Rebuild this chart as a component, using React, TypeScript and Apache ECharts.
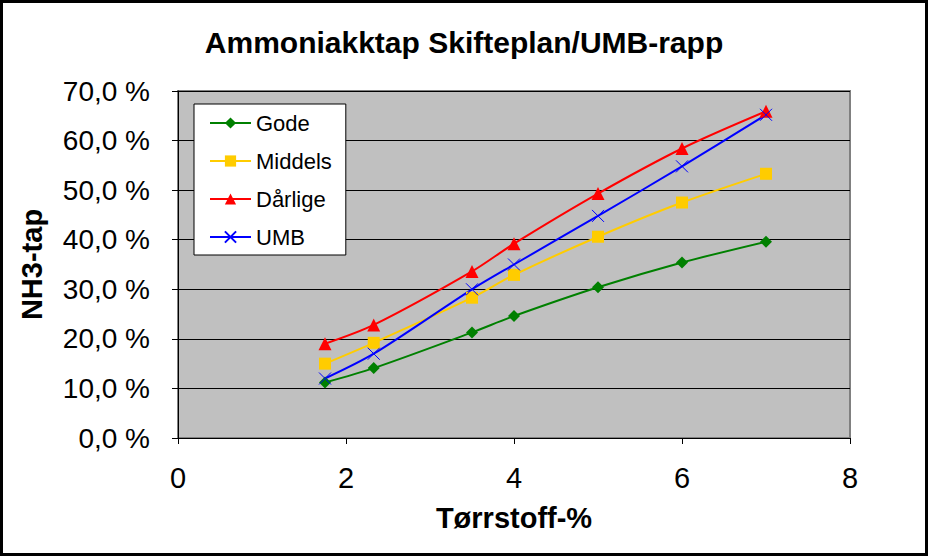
import React, { useEffect, useRef } from "react";
import * as echarts from "echarts";

const xValues = [1.75, 2.33, 3.5, 4, 5, 6, 7];
const gode = [11.2, 14.1, 21.3, 24.6, 30.4, 35.4, 39.6];
const middels = [15.0, 19.2, 28.3, 32.9, 40.6, 47.5, 53.3];
const darlige = [19.0, 22.8, 33.6, 39.2, 49.3, 58.4, 65.9];
const umb = [12.0, 17.0, 30.0, 35.0, 44.8, 54.8, 65.2];

const seriesNames = ["Gode", "Middels", "Dårlige", "UMB"];
const titleText = "Ammoniakktap Skifteplan/UMB-rapp";
const xName = "Tørrstoff-%";
const yName = "NH3-tap";

const pair = (ys: number[]) => xValues.map((x, i) => [x, ys[i]]);

export default function App() {
  const ref = useRef<HTMLDivElement>(null);
  useEffect(() => {
    if (!ref.current) return;
    const chart = echarts.init(ref.current, undefined, { renderer: "svg" });
    const font = "Arial, 'Liberation Sans', sans-serif";
    const mk = (
      name: string,
      data: number[],
      color: string,
      symbol: string,
      size: number,
      extraItem: any = {}
    ) => ({
      name,
      type: "line",
      data: pair(data),
      smooth: 0.3,
      symbol,
      symbolSize: size,
      showSymbol: true,
      lineStyle: { color, width: 2 },
      itemStyle: { color, ...extraItem },
      emphasis: { disabled: true },
    });
    chart.setOption({
      animation: false,
      backgroundColor: "#ffffff",
      textStyle: { fontFamily: font },
      title: {
        text: titleText,
        left: "center",
        top: 22,
        textStyle: { fontSize: 30, fontWeight: "bold", color: "#000", fontFamily: font },
      },
      legend: {
        orient: "vertical",
        left: 194,
        top: 104,
        padding: [8, 14, 7, 15],
        itemGap: 16,
        itemWidth: 41,
        itemHeight: 14,
        backgroundColor: "#ffffff",
        borderColor: "#000000",
        borderWidth: 1,
        borderRadius: 0,
        data: seriesNames,
        textStyle: { fontSize: 22, lineHeight: 22, color: "#000", fontFamily: font },
      },
      grid: {
        left: 178,
        right: 78,
        top: 91,
        bottom: 118,
        show: true,
        backgroundColor: "#C0C0C0",
        borderColor: "#808080",
        borderWidth: 2,
      },
      xAxis: {
        type: "value",
        min: 0,
        max: 8,
        interval: 2,
        name: xName,
        nameLocation: "middle",
        nameGap: 65,
        nameTextStyle: { fontSize: 29, fontWeight: "bold", color: "#000", fontFamily: font },
        axisLine: { show: true, onZero: false, lineStyle: { color: "#000", width: 1 } },
        axisTick: { show: true, inside: false, length: 6, lineStyle: { color: "#000" } },
        axisLabel: { fontSize: 29, color: "#000", margin: 25, fontFamily: font },
        splitLine: { show: false },
      },
      yAxis: {
        type: "value",
        min: 0,
        max: 70,
        interval: 10,
        name: yName,
        nameLocation: "middle",
        nameRotate: 90,
        nameGap: 132,
        nameTextStyle: { fontSize: 29, fontWeight: "bold", color: "#000", fontFamily: font },
        axisLine: { show: true, lineStyle: { color: "#000", width: 1 } },
        axisTick: { show: true, inside: false, length: 6, lineStyle: { color: "#000" } },
        axisLabel: {
          fontSize: 28,
          color: "#000",
          margin: 28,
          fontFamily: font,
          formatter: (v: number) => v.toFixed(1).replace(".", ",") + " %",
        },
        splitLine: { show: true, lineStyle: { color: "#000", width: 1 } },
      },
      graphic: [
        {
          type: "rect",
          shape: { x: 1.5, y: 1.5, width: 925, height: 553 },
          style: { fill: "none", stroke: "#000", lineWidth: 3 },
          z: 100,
          silent: true,
        },
      ],
      series: [
        mk(seriesNames[0], gode, "#008000", "diamond", 12),
        mk(seriesNames[1], middels, "#FFCC00", "rect", 12),
        mk(seriesNames[2], darlige, "#FF0000", "triangle", 13),
        mk(seriesNames[3], umb, "#0000FF", "path://M0,0L10,10M10,0L0,10", 12, {
          borderColor: "#0000FF",
          borderWidth: 1,
        }),
      ],
    });
    return () => chart.dispose();
  }, []);
  return (
    <div
      ref={ref}
      style={{ position: "absolute", left: 0, top: 0, width: 928, height: 556 }}
    />
  );
}
